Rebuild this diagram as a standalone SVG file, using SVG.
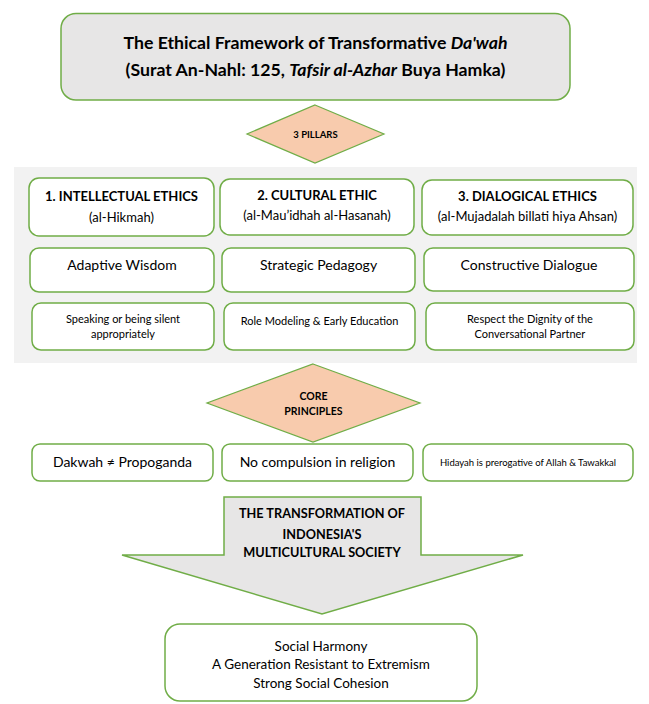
<svg xmlns="http://www.w3.org/2000/svg" width="649" height="704" viewBox="0 0 649 704">
<style>
text{font-family:Lato,"Open Sans","Liberation Sans",sans-serif;fill:#000;text-anchor:middle}
.b{font-weight:bold}
.box{fill:#fff;stroke:#70ad47;stroke-width:1.5}
.gray{fill:#e7e6e6;stroke:#70ad47;stroke-width:1.5}
.dia{fill:#f8cbad;stroke:#70ad47;stroke-width:1.2}
.h{font-size:13px}
.s2{font-size:14px}
.s3{font-size:11px}
</style>
<rect x="0" y="0" width="649" height="704" fill="#fff"/>
<g id="title">
<rect class="gray" x="61" y="13.5" width="509" height="86.5" rx="15"/>
<text class="b" x="315.5" y="49" font-size="17.7">The Ethical Framework of Transformative <tspan font-style="italic">Da'wah</tspan></text>
<text class="b" x="315.5" y="76" font-size="17.7">(Surat An-Nahl: 125, <tspan font-style="italic">Tafsir al-Azhar</tspan> Buya Hamka)</text>
</g>
<g id="pillars">
<polygon class="dia" points="315,105 384,134 315,163 247,134"/>
<text class="b" x="315.5" y="137.5" font-size="9.5">3 PILLARS</text>
</g>
<g id="panel">
<rect x="14" y="167" width="623" height="196" fill="#f2f2f2"/>
</g>
<g id="col1-header">
<rect class="box" x="29" y="178" width="185" height="58" rx="10"/>
<text class="b h" x="121.5" y="201">1. INTELLECTUAL ETHICS</text>
<text class="h" x="121.5" y="222">(al-Hikmah)</text>
</g>
<g id="col2-header">
<rect class="box" x="220" y="179" width="194" height="56" rx="10"/>
<text class="b h" x="317" y="200">2. CULTURAL ETHIC</text>
<text class="h" x="317" y="220">(al-Mau’idhah al-Hasanah)</text>
</g>
<g id="col3-header">
<rect class="box" x="422" y="180" width="211" height="55" rx="10"/>
<text class="b h" x="527.5" y="201">3. DIALOGICAL ETHICS</text>
<text class="h" x="527.5" y="221" font-size="12">(al-Mujadalah billati hiya Ahsan)</text>
</g>
<g id="col1-row2">
<rect class="box" x="30" y="248" width="184" height="44" rx="9"/>
<text class="s2" x="122" y="270">Adaptive Wisdom</text>
</g>
<g id="col2-row2">
<rect class="box" x="222" y="248" width="193" height="44" rx="9"/>
<text class="s2" x="318.5" y="270">Strategic Pedagogy</text>
</g>
<g id="col3-row2">
<rect class="box" x="424" y="248" width="210" height="43" rx="9"/>
<text class="s2" x="529" y="270">Constructive Dialogue</text>
</g>
<g id="col1-row3">
<rect class="box" x="32" y="303" width="182" height="47" rx="9"/>
<text class="s3" x="123" y="323">Speaking or being silent</text>
<text class="s3" x="123" y="338">appropriately</text>
</g>
<g id="col2-row3">
<rect class="box" x="224" y="303" width="191" height="47" rx="9"/>
<text class="s3" x="319.5" y="325">Role Modeling &amp; Early Education</text>
</g>
<g id="col3-row3">
<rect class="box" x="426" y="303" width="208" height="47" rx="9"/>
<text class="s3" x="530" y="323">Respect the Dignity of the</text>
<text class="s3" x="530" y="338">Conversational Partner</text>
</g>
<g id="core-principles">
<polygon class="dia" points="313,364 420,403 313,442 207,403"/>
<text class="b" x="313.5" y="400" font-size="10.5">CORE</text>
<text class="b" x="313.5" y="415" font-size="10.5">PRINCIPLES</text>
</g>
<g id="principle1">
<rect class="box" x="32" y="444" width="181" height="37" rx="8"/>
<text class="s2" x="122.5" y="467">Dakwah ≠ Propoganda</text>
</g>
<g id="principle2">
<rect class="box" x="222" y="444" width="191" height="37" rx="8"/>
<text class="s2" x="317.5" y="467">No compulsion in religion</text>
</g>
<g id="principle3">
<rect class="box" x="423" y="444" width="210" height="37" rx="8"/>
<text x="528" y="466" font-size="9.5">Hidayah is prerogative of Allah &amp; Tawakkal</text>
</g>
<g id="transformation">
<polygon class="gray" points="224,497 421,497 421,555 523,555 322,614 122,555 224,555"/>
<text class="b" x="322" y="518" font-size="12.7">THE TRANSFORMATION OF</text>
<text class="b" x="322" y="539" font-size="12.7">INDONESIA'S</text>
<text class="b" x="322" y="557" font-size="12.7">MULTICULTURAL SOCIETY</text>
</g>
<g id="outcomes">
<rect class="box" x="165" y="624" width="312" height="77" rx="15"/>
<text x="321" y="651" font-size="13.5">Social Harmony</text>
<text x="321" y="669" font-size="13.5">A Generation Resistant to Extremism</text>
<text x="321" y="688" font-size="13.5">Strong Social Cohesion</text>
</g>
<g id="connectors"></g>
</svg>
